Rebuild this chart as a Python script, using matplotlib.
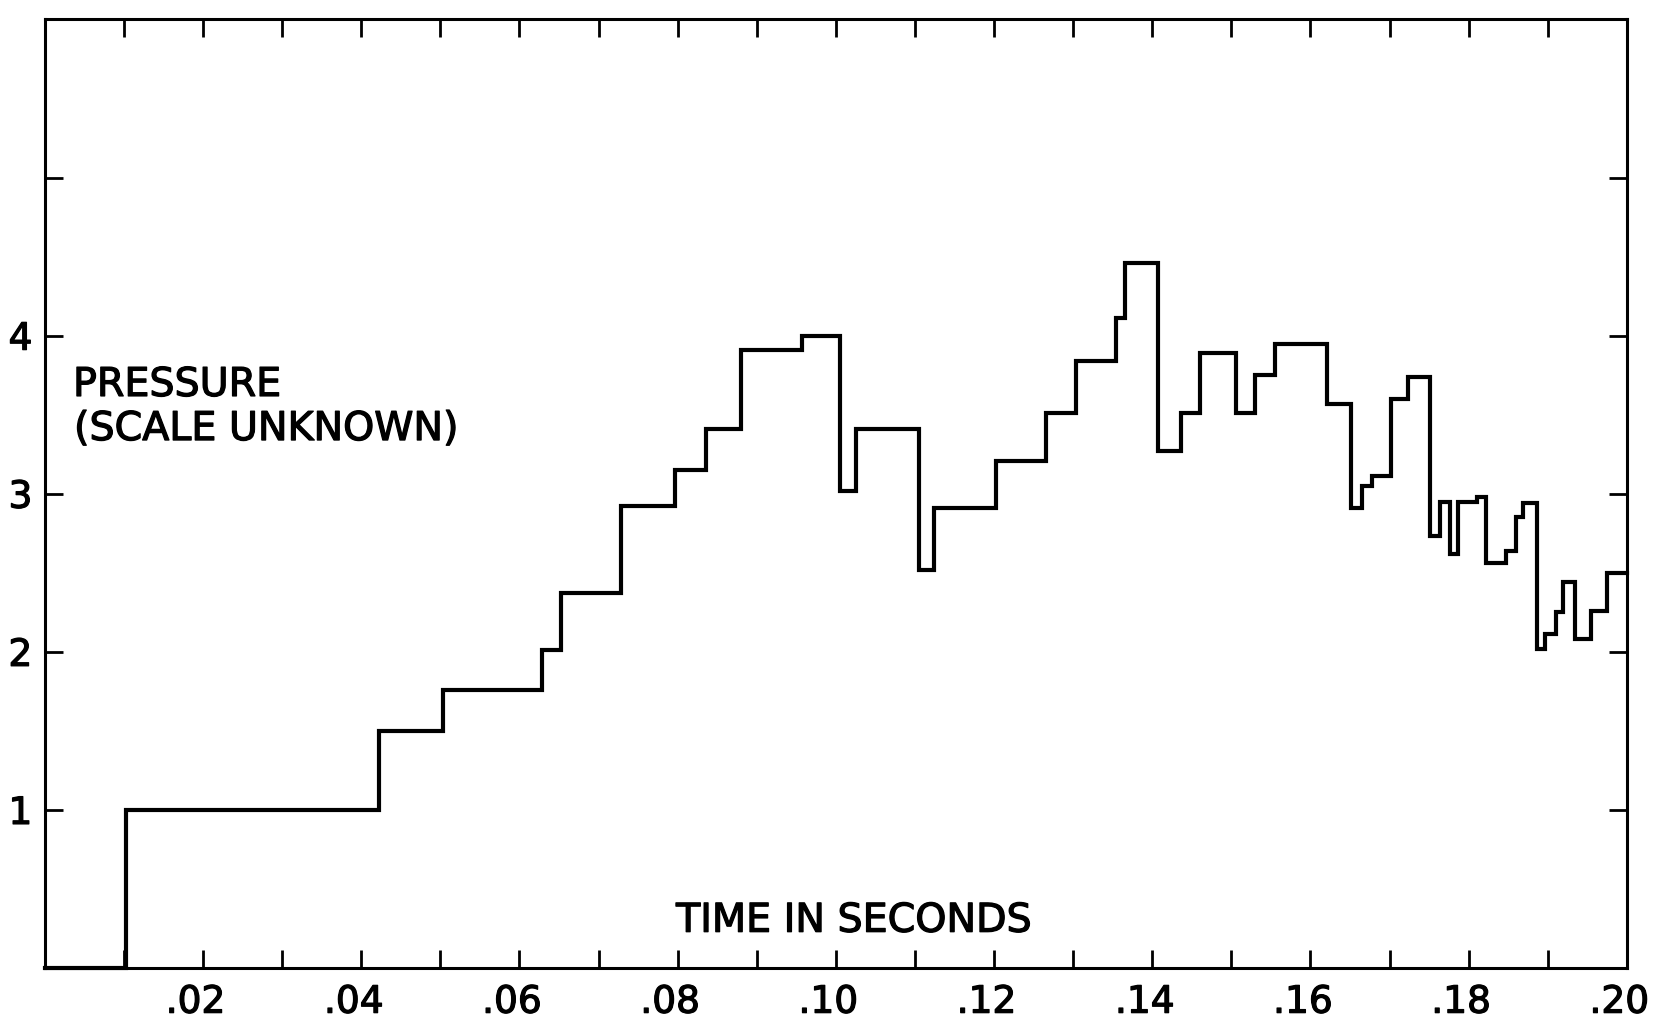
import numpy as np
import matplotlib.pyplot as plt
import matplotlib.transforms as mtransforms
import matplotlib.patheffects as pe

# step record: time where each level starts (s) and the level (scale unknown)
step_times = [0.0, 0.0102, 0.0423, 0.0504, 0.0628, 0.0653, 0.0728, 0.0797,
              0.0836, 0.0880, 0.0957, 0.1005, 0.1026, 0.1105, 0.1124, 0.1203,
              0.1266, 0.1304, 0.1354, 0.1366, 0.1407, 0.1436, 0.1461, 0.1506,
              0.1530, 0.1555, 0.1621, 0.1651, 0.1665, 0.1678, 0.1702, 0.1723,
              0.1751, 0.1764, 0.1776, 0.1787, 0.1811, 0.1822, 0.1847, 0.1860,
              0.1869, 0.1886, 0.1897, 0.1910, 0.1919, 0.1934, 0.1955, 0.1975]
step_levels = [0.0, 1.00, 1.50, 1.76, 2.01, 2.37, 2.92, 3.15,
               3.41, 3.91, 4.00, 3.02, 3.41, 2.52, 2.91, 3.21,
               3.51, 3.84, 4.11, 4.46, 3.27, 3.51, 3.89, 3.51,
               3.75, 3.95, 3.57, 2.91, 3.05, 3.11, 3.60, 3.74,
               2.73, 2.95, 2.62, 2.95, 2.98, 2.56, 2.64, 2.85,
               2.94, 2.02, 2.11, 2.25, 2.44, 2.08, 2.26, 2.50]
t_end = 0.20

x_ticks = [0.02, 0.04, 0.06, 0.08, 0.10, 0.12, 0.14, 0.16, 0.18, 0.20]
x_labels = ['.02', '.04', '.06', '.08', '.10', '.12', '.14', '.16', '.18', '.20']
x_minor = [0.01, 0.03, 0.05, 0.07, 0.09, 0.11, 0.13, 0.15, 0.17, 0.19]
y_ticks = [1, 2, 3, 4, 5]
y_labels = ['1', '2', '3', '4', '']

# lettering in the original is a bit heavier than DejaVu regular
ink = [pe.withStroke(linewidth=0.9, foreground='black')]

fig = plt.figure(figsize=(16.6, 10.25), dpi=100)
ax = fig.add_axes([0.027, 0.0556, 0.953, 0.9254])

ax.step(step_times + [t_end], step_levels + [step_levels[-1]], where='post',
        color='black', lw=3.0, clip_on=False, solid_joinstyle='miter')

ax.set_xlim(0, 0.20)
ax.set_ylim(0, 6)
ax.set_xticks(x_ticks)
ax.set_xticklabels(x_labels)
ax.set_xticks(x_minor, minor=True)
ax.set_yticks(y_ticks)
ax.set_yticklabels(y_labels)

for sp in ax.spines.values():
    sp.set_linewidth(2.2)

ax.tick_params(which='both', direction='in', length=13, width=2.0,
               top=True, right=True, labelsize=27, color='black')
ax.tick_params(axis='x', pad=12)
ax.tick_params(axis='y', pad=9)

# labels sit slightly left of their ticks in the original
shift = mtransforms.ScaledTranslation(-0.075, 0, fig.dpi_scale_trans)
for lbl in ax.get_xticklabels():
    lbl.set_transform(lbl.get_transform() + shift)
    lbl.set_path_effects(ink)
for lbl in ax.get_yticklabels():
    lbl.set_path_effects(ink)

fig.text(0.044, 0.6137, 'PRESSURE', fontsize=28.5, va='baseline', path_effects=ink)
fig.text(0.0446, 0.5707, '(SCALE UNKNOWN)', fontsize=28.5, va='baseline', path_effects=ink)
fig.text(0.5145, 0.091, 'TIME IN SECONDS', fontsize=28.5, ha='center', va='baseline',
         path_effects=ink)

fig.savefig('out.png', dpi=100)
